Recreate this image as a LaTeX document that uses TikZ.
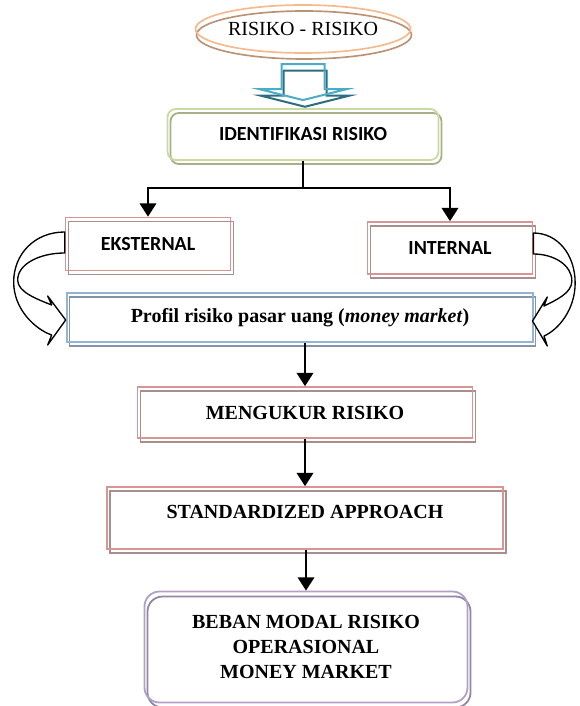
\documentclass[tikz,border=0pt]{standalone}
\usepackage{fontspec}
\setmainfont{Liberation Serif}
\newfontfamily\calibri{Carlito}
\usetikzlibrary{arrows.meta,shapes.geometric}
\definecolor{jingga}{HTML}{F7B98C}
\definecolor{coklat}{HTML}{BC9275}
\definecolor{birumuda}{HTML}{4BACC6}
\definecolor{tealtua}{HTML}{2C6E80}
\definecolor{hijau}{HTML}{C9DBA3}
\definecolor{bayanghijau}{HTML}{A7B08A}
\definecolor{merah}{HTML}{D99594}
\definecolor{bayangmerah}{HTML}{A88E8E}
\definecolor{biru}{HTML}{95B3D7}
\definecolor{bayangbiru}{HTML}{8493A8}
\definecolor{ungu}{HTML}{B2A1C7}
\definecolor{bayangungu}{HTML}{9487A6}

\begin{document}
\begin{tikzpicture}[x=0.6pt,y=-0.6pt]
% Styles
\tikzstyle{teks biasa}=[font=\fontsize{12}{14}\selectfont]
\tikzstyle{teks tebal}=[font=\bfseries\fontsize{12}{15}\selectfont]
\tikzstyle{teks calibri}=[font=\calibri\bfseries\fontsize{12}{14}\selectfont]
\tikzstyle{elips}=[ellipse, draw=jingga, line width=1pt, inner sep=0pt, minimum width=129pt, minimum height=28.8pt,
  preaction={draw=coklat, line width=1pt, transform canvas={xshift=0.6pt,yshift=-3.6pt}}]
\tikzstyle{kotak hijau}=[draw=hijau, line width=1.1pt, rounded corners=5pt, inner sep=0pt,
  preaction={draw=bayanghijau, line width=1.1pt, transform canvas={xshift=1.8pt,yshift=-2.4pt}}]
\tikzstyle{kotak merah}=[draw=merah, line width=1pt, inner sep=0pt,
  preaction={draw=bayangmerah, line width=1pt, transform canvas={xshift=1.8pt,yshift=-2.4pt}}]
\tikzstyle{kotak biru}=[draw=biru, line width=1pt, inner sep=0pt,
  preaction={draw=bayangbiru, line width=1pt, transform canvas={xshift=1.5pt,yshift=-2.4pt}}]
\tikzstyle{kotak ungu}=[draw=ungu, line width=1.1pt, rounded corners=9pt, inner sep=0pt, align=center,
  preaction={draw=bayangungu, line width=1.1pt, transform canvas={xshift=1.8pt,yshift=-3pt}}]
\tikzstyle{panah blok}=[draw=birumuda, line width=1.2pt,
  preaction={draw=tealtua, line width=1.2pt, transform canvas={xshift=1.2pt,yshift=-4pt}}]
\tikzstyle{garis}=[line width=1pt]
\tikzstyle{panah}=[line width=1pt, -{Triangle[length=8pt,width=10pt]}]
\tikzstyle{panah lengkung}=[draw=black, fill=white, line width=0.8pt, line join=round]

\useasboundingbox (0,0) rectangle (579,706);

% the nodes
\node[elips, teks biasa] (risiko) at (303,29) {RISIKO - RISIKO};
\node[kotak hijau, teks calibri, minimum width=162.6pt, minimum height=30.6pt] (ident) at (303,134.5) {IDENTIFIKASI RISIKO};
\node[kotak merah, teks calibri, minimum width=99pt, minimum height=31.8pt] (eks) at (148,244) {EKSTERNAL};
\node[kotak merah, teks calibri, minimum width=99pt, minimum height=31.2pt] (int) at (450,248) {INTERNAL};
\node[kotak biru, teks tebal, minimum width=279.6pt, minimum height=29.4pt] (profil) at (300,317.5) {Profil risiko pasar uang (\textit{money market})};
\node[kotak merah, teks tebal, minimum width=201pt, minimum height=30.6pt] (ukur) at (305,412.5) {MENGUKUR RISIKO};
\node[kotak merah, teks tebal, minimum width=237.6pt, minimum height=37.2pt, text depth=7pt] (std) at (305,518) {STANDARDIZED APPROACH};
\node[kotak ungu, teks tebal, minimum width=193.8pt, minimum height=66.6pt] (beban) at (306,647) {BEBAN MODAL RISIKO\\OPERASIONAL\\MONEY MARKET};

% block arrow
\begin{scope}[shift={(ident.north)}]
\draw[panah blok] (-21.5,-44) -- (21.5,-44) -- (21.5,-19) -- (44,-19) -- (0,-8) -- (-44,-19) -- (-21.5,-19) -- cycle;
\end{scope}

% branch
\coordinate (cabang) at (303,188);
\draw[garis] (ident.south) -- (cabang);
\draw[panah] (cabang) -| (eks.north);
\draw[panah] (cabang) -| (int.north);

% curved arrows
\begin{scope}[shift={(eks.west)}]
\draw[panah lengkung] (0,-12) .. controls (-30,-12) and (-51,10) .. (-51,38)
  .. controls (-51,65) and (-30,85) .. (-13,91) -- (-17,101) -- (1,76) -- (-17,52) -- (-13,61)
  .. controls (-28,55) and (-47,48) .. (-47,36) .. controls (-47,20) and (-25,9) .. (0,9) -- cycle;
\end{scope}
\begin{scope}[shift={(int.east)}, xscale=-0.82, yshift=1.8pt]
\draw[panah lengkung] (0,-12) .. controls (-30,-12) and (-51,10) .. (-51,38)
  .. controls (-51,65) and (-30,85) .. (-13,91) -- (-17,101) -- (1,76) -- (-17,52) -- (-13,61)
  .. controls (-28,55) and (-47,48) .. (-47,36) .. controls (-47,20) and (-25,9) .. (0,9) -- cycle;
\end{scope}

% down the column
\draw[panah] (profil.south -| ukur.north) -- (ukur.north);
\draw[panah] (ukur.south) -- (std.north);
\draw[panah] (std.south -| beban.north) -- (beban.north);

\end{tikzpicture}
\end{document}
